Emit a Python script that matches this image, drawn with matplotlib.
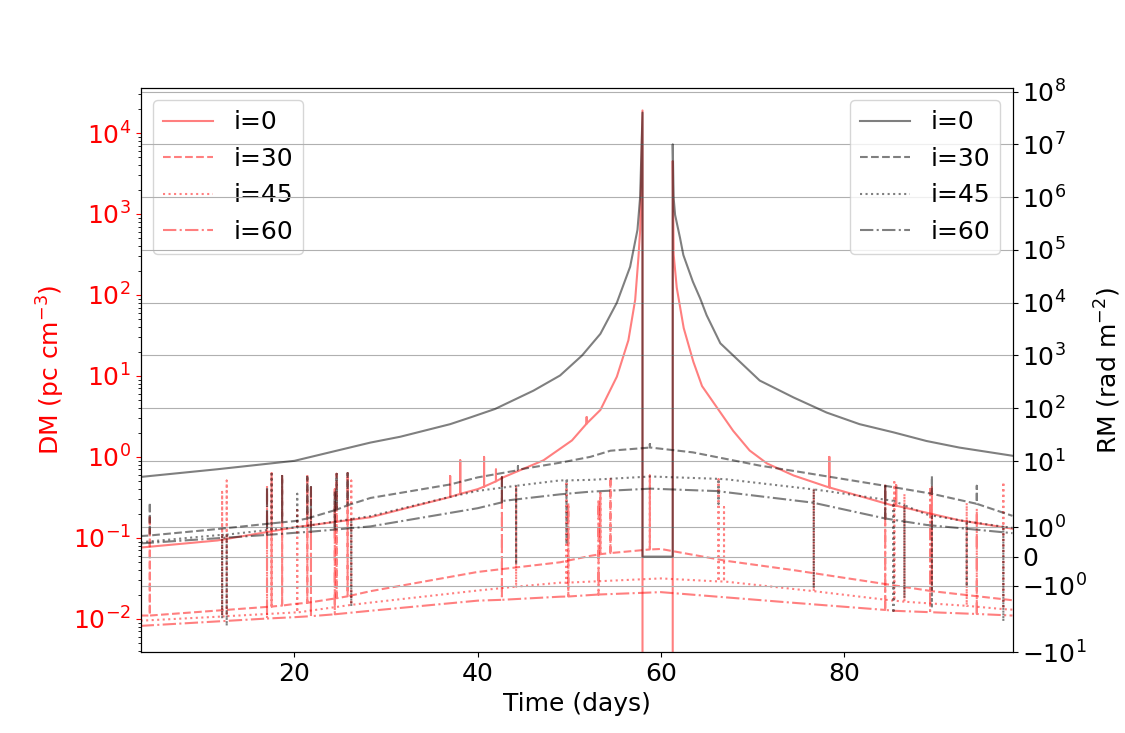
import numpy as np
import matplotlib
matplotlib.use("Agg")
import matplotlib.pyplot as plt

plt.rcParams['font.size'] = 18

labels = ["i=0", "i=30", "i=45", "i=60"]
styles = ['-', '--', ':', '-.']

# ---------------- DM (left axis) base curves ----------------
dm0_x = [3.2, 11.6, 20.0, 28.3, 37.0, 40.0, 42.8, 47.2, 50.3, 51.9, 53.4, 55.2, 56.46, 57.2,
         57.56, 57.74, 58.0, 58.0, 61.3, 61.3, 61.4, 61.74, 62.5, 63.55, 64.5, 67.9, 69.7,
         71.6, 74.5, 78.1, 85.4, 92.6, 98.4]
dm0_y = [0.076, 0.093, 0.135, 0.18, 0.32, 0.40, 0.56, 0.91, 1.6, 2.58, 3.8, 9.8, 27.6, 87,
         295, 630, 1.9e4, 0.0, 0.0, 4.5e3, 316, 123, 39, 15, 7.5, 2.1, 1.2,
         0.83, 0.59, 0.43, 0.25, 0.165, 0.13]

dm30_x = [3.2, 20.0, 28.3, 40.0, 49.0, 52.3, 60.0, 67.2, 74.5, 85.4, 98.4]
dm30_y = [0.011, 0.0153, 0.022, 0.038, 0.05, 0.06, 0.073, 0.052, 0.04, 0.026, 0.017]

dm45_x = [3.2, 20.0, 28.3, 40.0, 49.0, 60.0, 74.5, 85.4, 98.4]
dm45_y = [0.0095, 0.012, 0.0159, 0.0224, 0.028, 0.0316, 0.0234, 0.0168, 0.013]

dm60_x = [3.2, 20.0, 28.3, 40.0, 49.0, 60.0, 74.5, 85.4, 98.4]
dm60_y = [0.0082, 0.0105, 0.0126, 0.0168, 0.0188, 0.0214, 0.0158, 0.0126, 0.011]

# DM glitches: position, foot value, top value
dm0_sx = [37.0, 38.1, 40.7, 42.0, 51.9, 78.4, 85.7]
dm0_sf = [0.32, 0.35, 0.43, 0.50, 2.58, 0.42, 0.25]
dm0_st = [0.58, 0.91, 1.0, 0.70, 3.1, 1.0, 0.45]

dm30_sx = [4.2, 17.5, 18.65, 21.4, 24.6, 25.8, 53.4, 54.5, 58.8, 89.6]
dm30_sf = [0.011, 0.0142, 0.0146, 0.0158, 0.018, 0.019, 0.063, 0.065, 0.072, 0.022]
dm30_st = [0.19, 0.63, 0.60, 0.60, 0.62, 0.63, 0.36, 0.56, 0.59, 0.42]

dm45_sx = [12.1, 12.6, 20.3, 26.2, 44.2, 49.7, 66.3, 66.9, 76.7, 85.5, 86.6, 93.4, 97.4]
dm45_sf = [0.0107, 0.0108, 0.012, 0.0149, 0.025, 0.028, 0.029, 0.029, 0.022, 0.0168, 0.0163, 0.0145, 0.0132]
dm45_st = [0.37, 0.51, 0.22, 0.51, 0.44, 0.50, 0.53, 0.24, 0.40, 0.49, 0.35, 0.27, 0.49]

dm60_sx = [17.0, 21.8, 24.4, 42.65, 49.9, 53.2, 84.5, 89.4, 94.5]
dm60_sf = [0.0101, 0.0108, 0.0114, 0.0172, 0.0189, 0.02, 0.0129, 0.0121, 0.0115]
dm60_st = [0.44, 0.45, 0.40, 0.56, 0.27, 0.30, 0.47, 0.40, 0.23]

# ---------------- RM (right axis) base curves ----------------
rm0_x = [3.2, 11.6, 20.0, 28.3, 31.56, 37.0, 39.2, 41.9, 46.1, 49.0, 51.4, 53.4, 55.2, 56.65,
         57.45, 57.74, 58.0, 58.0, 61.3, 61.3, 61.4, 61.56, 62.1, 62.46, 63.5, 64.3, 65.0,
         66.5, 70.8, 74.5, 78.1, 81.7, 85.4, 89.0, 92.6, 98.4]
rm0_y = [5.0, 7.0, 10.1, 22.4, 28.9, 50, 67, 97, 216, 418, 1000, 2570, 1.0e4, 4.8e4,
         2.4e5, 1.0e6, 4.0e7, 0.0, 0.0, 1.0e7, 9.7e5, 4.6e5, 1.68e5, 8.0e4, 2.5e4, 1.2e4, 5.8e3,
         1.7e3, 335, 160, 83, 50, 35, 24, 18, 12.6]

rm30_x = [3.2, 11.6, 20.0, 28.3, 37.0, 40.0, 44.7, 49.0, 52.3, 54.5, 58.9, 63.5, 70.8, 74.5, 85.4, 98.4]
rm30_y = [0.70, 0.94, 1.21, 2.0, 3.6, 4.9, 7.0, 9.3, 12.0, 15.7, 18, 14.6, 8.2, 6.5, 3.2, 1.39]

rm45_x = [3.2, 11.6, 20.0, 28.3, 37.0, 40.0, 49.0, 52.3, 58.9, 67.2, 78.1, 89.0, 98.4]
rm45_y = [0.49, 0.73, 0.99, 1.38, 2.1, 2.72, 4.3, 4.4, 5.1, 4.5, 2.7, 1.44, 0.98]

rm60_x = [3.2, 20.0, 28.3, 40.0, 42.8, 49.0, 52.3, 58.9, 66.1, 76.6, 89.0, 98.4]
rm60_y = [0.45, 0.81, 1.03, 1.65, 1.9, 2.34, 2.63, 3.0, 2.7, 1.84, 1.08, 0.80]

rm0_sx, rm0_sf, rm0_st = [], [], []

rm30_sx = [4.2, 18.65, 21.4, 24.6, 25.8, 44.4, 58.8, 89.6, 94.5]
rm30_sf = [0.72, 1.17, 1.3, 1.6, 1.75, 6.7, 18, 2.4, 1.8]
rm30_st = [1.84, 5.2, 5.0, 5.7, 5.9, 8.0, 21, 5.2, 3.4]

rm45_sx = [12.1, 12.6, 17.5, 20.3, 26.2, 44.2, 49.7, 66.3, 76.7, 85.4, 86.6, 89.6, 93.4, 97.4]
rm45_sf = [0.74, 0.75, 0.92, 1.0, 1.28, 3.4, 4.3, 4.6, 2.9, 1.9, 1.75, 1.4, 1.2, 1.02]
rm45_st = [-2.3, -3.2, 5.7, 2.4, -1.7, -0.27, 0.42, 1.8, -1.07, -1.93, -1.41, -1.76, -1.02, -2.6]

rm60_sx = [17.0, 21.8, 24.4, 42.65, 84.5]
rm60_sf = [0.74, 0.85, 0.92, 1.85, 1.3]
rm60_st = [3.3, 3.2, 2.7, 4.9, 3.6]


def build(xs, ys, sx, sf, st):
    pts = list(zip(xs, ys))
    for x, f, t in zip(sx, sf, st):
        pts += [(x, f), (x, t), (x, f)]
    pts = sorted(pts, key=lambda p: p[0])  # stable: keeps glitch order
    return [p[0] for p in pts], [p[1] for p in pts]


dm_series = [(dm0_x, dm0_y, dm0_sx, dm0_sf, dm0_st),
             (dm30_x, dm30_y, dm30_sx, dm30_sf, dm30_st),
             (dm45_x, dm45_y, dm45_sx, dm45_sf, dm45_st),
             (dm60_x, dm60_y, dm60_sx, dm60_sf, dm60_st)]
rm_series = [(rm0_x, rm0_y, rm0_sx, rm0_sf, rm0_st),
             (rm30_x, rm30_y, rm30_sx, rm30_sf, rm30_st),
             (rm45_x, rm45_y, rm45_sx, rm45_sf, rm45_st),
             (rm60_x, rm60_y, rm60_sx, rm60_sf, rm60_st)]

fig, ax1 = plt.subplots(figsize=(11.25, 7.33), dpi=100)
ax2 = ax1.twinx()

for (xs, ys, sx, sf, st), ls, lab in zip(dm_series, styles, labels):
    px, py = build(xs, ys, sx, sf, st)
    ax1.plot(px, py, color='red', alpha=0.5, linestyle=ls, label=lab)

for (xs, ys, sx, sf, st), ls, lab in zip(rm_series, styles, labels):
    px, py = build(xs, ys, sx, sf, st)
    ax2.plot(px, py, color='black', alpha=0.5, linestyle=ls, label=lab)

ax1.set_yscale('log')
ax1.set_ylim(3.86e-3, 3.6e4)
ax1.set_xlim(3.2, 98.4)
ax1.set_xlabel('Time (days)')
ax1.set_ylabel('DM (pc cm$^{-3}$)', color='red')
ax1.tick_params(axis='y', colors='red')

ax2.set_yscale('symlog', linthresh=2, linscale=1)
ax2.set_ylim(-10.1, 1.17e8)
ax2.set_ylabel('RM (rad m$^{-2}$)')
ax2.grid(True)

ax1.legend(loc='upper left')
ax2.legend(loc='upper right')

fig.savefig('out.png', dpi=100)
